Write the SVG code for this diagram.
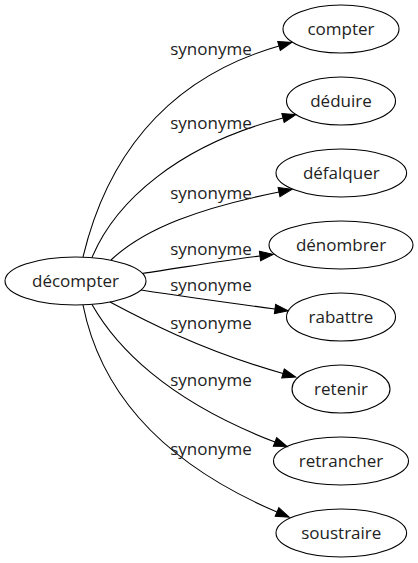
<svg xmlns="http://www.w3.org/2000/svg" width="418" height="563" viewBox="0 0 418 563">
<style>
.n ellipse{fill:none;stroke:#000;stroke-width:1.1}
text{font-family:"Open Sans","DejaVu Sans",sans-serif;font-size:17px;fill:#222;text-anchor:middle}
.e path{fill:none;stroke:#000;stroke-width:1.1;marker-end:url(#a)}
</style>
<defs>
<marker id="a" markerUnits="userSpaceOnUse" markerWidth="14" markerHeight="10" refX="0" refY="5" orient="auto" overflow="visible">
<path d="M0,0.3 L13.3,5 L0,9.7 z" fill="#000" stroke="#000" stroke-width="1"/>
</marker>
</defs>
<rect width="418" height="563" fill="#fff"/>
<g id="edges" class="e">
<path d="M83,257 C105,165 160,80 279,46"/>
<path d="M92,257.5 C115,202 178,145 283,118"/>
<path d="M111,260 C145,228 200,208 279,192"/>
<path d="M142,273.5 C180,268 220,261 260,256"/>
<path d="M141,290 C180,296 230,303 275,309"/>
<path d="M110,302 C140,318 200,350 283,373.5"/>
<path d="M92,304.5 C115,345 165,400 275,442"/>
<path d="M83,305 C100,390 160,462 277,512"/>
</g>
<g id="edge-labels">
<text x="211" y="55">synonyme</text>
<text x="211" y="129">synonyme</text>
<text x="211" y="199">synonyme</text>
<text x="211" y="254.5">synonyme</text>
<text x="211" y="290.5">synonyme</text>
<text x="211" y="328.5">synonyme</text>
<text x="211" y="386">synonyme</text>
<text x="211" y="455">synonyme</text>
</g>
<g id="decompter" class="n"><ellipse cx="75.5" cy="281" rx="70.5" ry="24"/><text x="75.5" y="286.5">décompter</text></g>
<g id="compter" class="n"><ellipse cx="341" cy="29" rx="58" ry="24"/><text x="341" y="34.5">compter</text></g>
<g id="deduire" class="n"><ellipse cx="341" cy="101" rx="54.5" ry="24"/><text x="341" y="106.5">déduire</text></g>
<g id="defalquer" class="n"><ellipse cx="341.3" cy="173" rx="65.3" ry="24"/><text x="341.3" y="178.5">défalquer</text></g>
<g id="denombrer" class="n"><ellipse cx="341" cy="245" rx="72" ry="24"/><text x="341" y="250.5">dénombrer</text></g>
<g id="rabattre" class="n"><ellipse cx="341" cy="317" rx="54.5" ry="24"/><text x="341" y="322.5">rabattre</text></g>
<g id="retenir" class="n"><ellipse cx="341" cy="389" rx="49" ry="24"/><text x="341" y="394.5">retenir</text></g>
<g id="retrancher" class="n"><ellipse cx="341" cy="461" rx="67.5" ry="24"/><text x="341" y="466.5">retrancher</text></g>
<g id="soustraire" class="n"><ellipse cx="341.3" cy="533" rx="65.3" ry="24"/><text x="341.3" y="538.5">soustraire</text></g>
</svg>
